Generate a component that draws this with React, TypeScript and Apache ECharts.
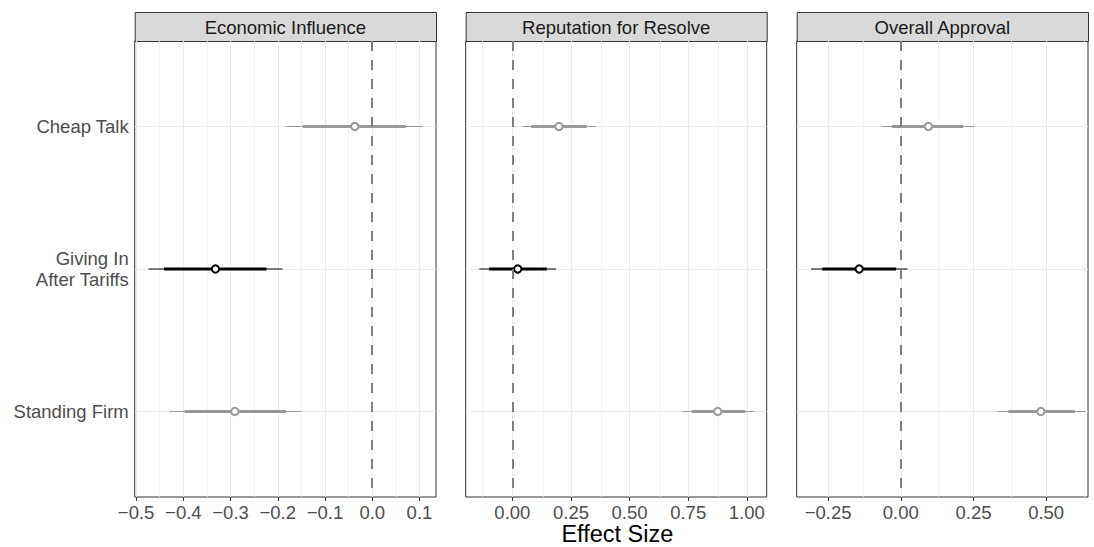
import React, { useEffect, useRef } from "react";
import * as echarts from "echarts";

// ---- Data ----
const panelTitles = ["Economic Influence", "Reputation for Resolve", "Overall Approval"];
const categories = ["Cheap Talk", "Giving In\nAfter Tariffs", "Standing Firm"];

const econEst = [-0.037, -0.332, -0.291];
const econLo95 = [-0.183, -0.474, -0.43];
const econLo90 = [-0.147, -0.441, -0.397];
const econHi90 = [0.071, -0.224, -0.183];
const econHi95 = [0.107, -0.19, -0.15];

const resolveEst = [0.199, 0.023, 0.876];
const resolveLo95 = [0.043, -0.141, 0.725];
const resolveLo90 = [0.08, -0.099, 0.765];
const resolveHi90 = [0.317, 0.147, 0.993];
const resolveHi95 = [0.356, 0.186, 1.031];

const approvalEst = [0.095, -0.143, 0.482];
const approvalLo95 = [-0.065, -0.309, 0.332];
const approvalLo90 = [-0.031, -0.27, 0.37];
const approvalHi90 = [0.215, -0.016, 0.599];
const approvalHi95 = [0.253, 0.023, 0.635];

const econTicks = [-0.5, -0.4, -0.3, -0.2, -0.1, 0.0, 0.1];
const econMinor = [-0.45, -0.35, -0.25, -0.15, -0.05, 0.05];
const resolveTicks = [0.0, 0.25, 0.5, 0.75, 1.0];
const resolveMinor = [-0.125, 0.125, 0.375, 0.625, 0.875];
const approvalTicks = [-0.25, 0.0, 0.25, 0.5];
const approvalMinor = [-0.125, 0.125, 0.375, 0.625];

const econRange = [-0.503, 0.135];
const resolveRange = [-0.199, 1.085];
const approvalRange = [-0.358, 0.644];

const xTitle = "Effect Size";

// ---- Layout ----
const GRID_TOP = 41;
const GRID_H = 456;
const STRIP_TOP = 12;
const STRIP_H = 29;
const gridsLayout = [
  { left: 134.7, width: 301.3 },
  { left: 465.7, width: 301 },
  { left: 796.7, width: 291.3 },
];
const GRAY = "#999999";
const BLACK = "#000000";
const FONT = "Liberation Sans, Arial, Helvetica, sans-serif";
const TEXT_SIZE = 18.5;

function fmt(v: number, dec: number) {
  const s = Math.abs(v).toFixed(dec);
  return v < 0 ? "\u2212" + s : s;
}

export default function App() {
  const ref = useRef<HTMLDivElement>(null);
  useEffect(() => {
    document.body.style.margin = "0";
    const chart = echarts.init(ref.current!, undefined, { renderer: "svg" });

    const panels = [
      { est: econEst, lo95: econLo95, lo90: econLo90, hi90: econHi90, hi95: econHi95, ticks: econTicks, minor: econMinor, range: econRange, dec: 1 },
      { est: resolveEst, lo95: resolveLo95, lo90: resolveLo90, hi90: resolveHi90, hi95: resolveHi95, ticks: resolveTicks, minor: resolveMinor, range: resolveRange, dec: 2 },
      { est: approvalEst, lo95: approvalLo95, lo90: approvalLo90, hi90: approvalHi90, hi95: approvalHi95, ticks: approvalTicks, minor: approvalMinor, range: approvalRange, dec: 2 },
    ];

    const grid: any[] = [];
    const xAxis: any[] = [];
    const yAxis: any[] = [];
    const series: any[] = [];
    const graphic: any[] = [];

    panels.forEach((p, i) => {
      const g = gridsLayout[i];
      grid.push({
        left: g.left,
        top: GRID_TOP,
        width: g.width,
        height: GRID_H,
        show: true,
        backgroundColor: "#ffffff",
        borderColor: "#333333",
        borderWidth: 1,
        containLabel: false,
      });
      xAxis.push({
        type: "value",
        gridIndex: i,
        min: p.range[0],
        max: p.range[1],
        axisLine: { show: false },
        splitLine: { show: false },
        axisTick: { show: true, customValues: p.ticks, length: 4, lineStyle: { color: "#333333", width: 1 } },
        axisLabel: {
          show: true,
          customValues: p.ticks,
          formatter: (v: number) => fmt(v, p.dec),
          color: "#4D4D4D",
          fontSize: TEXT_SIZE,
          fontFamily: FONT,
          margin: 6,
          showMinLabel: true,
          showMaxLabel: true,
        },
      });
      yAxis.push({
        type: "value",
        gridIndex: i,
        min: 0.4,
        max: 3.6,
        inverse: true,
        axisLine: { show: false },
        splitLine: { show: false },
        axisTick: { show: i === 0, customValues: [1, 2, 3], length: 4, lineStyle: { color: "#333333", width: 1 } },
        axisLabel: {
          show: i === 0,
          customValues: [1, 2, 3],
          formatter: (v: number) => categories[Math.round(v) - 1] || "",
          color: "#4D4D4D",
          fontSize: TEXT_SIZE,
          lineHeight: 21,
          align: "right",
          fontFamily: FONT,
          margin: 6,
        },
      });

      // Grid lines (below everything)
      series.push({
        type: "line",
        xAxisIndex: i,
        yAxisIndex: i,
        data: [],
        silent: true,
        z: 1,
        markLine: {
          z: 1,
          silent: true,
          symbol: "none",
          animation: false,
          label: { show: false },
          lineStyle: { color: "#EBEBEB", width: 1, type: "solid" },
          data: [
            ...p.minor.map((v) => ({ xAxis: v, lineStyle: { color: "#F0F0F0", width: 0.8, type: "solid" } })),
            ...p.ticks.map((v) => ({ xAxis: v })),
            ...[1, 2, 3].map((v) => ({ yAxis: v })),
          ],
        },
      });

      // Interval + point
      const data = p.est.map((e, k) => [k + 1, p.lo95[k], p.lo90[k], e, p.hi90[k], p.hi95[k]]);
      series.push({
        type: "custom",
        xAxisIndex: i,
        yAxisIndex: i,
        z: 3,
        data,
        encode: { x: [1, 5], y: 0 },
        renderItem: (params: any, api: any) => {
          const y = api.value(0);
          const color = Math.round(y) === 2 ? BLACK : GRAY;
          const a = api.coord([api.value(1), y]);
          const b = api.coord([api.value(2), y]);
          const c = api.coord([api.value(3), y]);
          const d = api.coord([api.value(4), y]);
          const e = api.coord([api.value(5), y]);
          const thin = 1.2;
          const thick = 3;
          return {
            type: "group",
            children: [
              {
                type: "rect",
                shape: { x: a[0], y: a[1] - thin / 2, width: e[0] - a[0], height: thin },
                style: { fill: color, stroke: "none", lineWidth: 0 },
              },
              {
                type: "rect",
                shape: { x: b[0], y: b[1] - thick / 2, width: d[0] - b[0], height: thick },
                style: { fill: color, stroke: "none", lineWidth: 0 },
              },
              {
                type: "circle",
                shape: { cx: c[0], cy: c[1], r: 3.7 },
                style: { fill: "#ffffff", stroke: color, lineWidth: 2 },
              },
            ],
          };
        },
      });

      // Zero line
      series.push({
        type: "line",
        xAxisIndex: i,
        yAxisIndex: i,
        data: [],
        silent: true,
        z: 4,
        markLine: {
          z: 4,
          silent: true,
          symbol: "none",
          animation: false,
          label: { show: false },
          lineStyle: { color: "#7F7F7F", width: 2, type: [10, 9] },
          data: [{ xAxis: 0 }],
        },
      });

      // Strip
      graphic.push({
        type: "rect",
        left: g.left,
        top: STRIP_TOP,
        shape: { width: g.width, height: STRIP_H },
        style: { fill: "#D9D9D9", stroke: "#333333", lineWidth: 1 },
      });
      graphic.push({
        type: "text",
        x: g.left + g.width / 2,
        y: STRIP_TOP + STRIP_H / 2 + 1,
        style: {
          text: panelTitles[i],
          fill: "#1A1A1A",
          fontSize: TEXT_SIZE,
          fontFamily: FONT,
          align: "center",
          verticalAlign: "middle",
        },
      });
    });

    graphic.push({
      type: "text",
      x: (gridsLayout[0].left + gridsLayout[2].left + gridsLayout[2].width) / 2 + 6,
      y: 534,
      style: {
        text: xTitle,
        fill: "#000000",
        fontSize: 23.5,
        fontFamily: FONT,
        align: "center",
        verticalAlign: "middle",
      },
    });

    chart.setOption({
      animation: false,
      backgroundColor: "#ffffff",
      grid,
      xAxis,
      yAxis,
      series,
      graphic,
    });
    return () => chart.dispose();
  }, []);
  return <div ref={ref} style={{ position: "absolute", left: 0, top: 0, width: 1094, height: 547 }} />;
}
